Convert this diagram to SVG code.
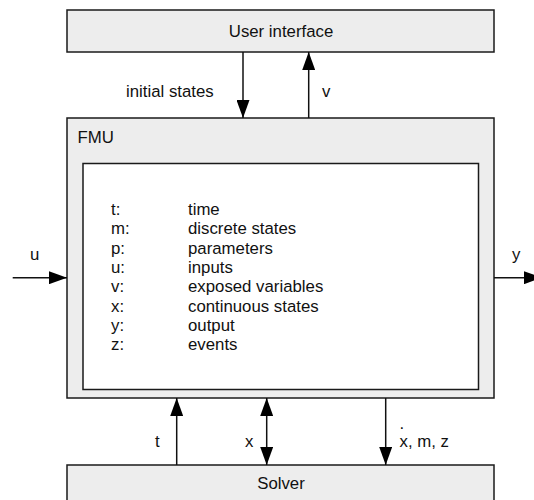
<svg xmlns="http://www.w3.org/2000/svg" width="534" height="500" viewBox="0 0 534 500">
  <style>
    .box { fill: #ededed; stroke: #1a1a1a; stroke-width: 1.5; }
    .inner { fill: #ffffff; stroke: #1a1a1a; stroke-width: 1.5; }
    .lbl { font-family: "Liberation Sans", Arial, sans-serif; font-size: 16.8px; fill: #111; }
    .mid { text-anchor: middle; }
    .conn { stroke: #111; stroke-width: 1.5; fill: none; }
  </style>
  <defs>
    <marker id="ah" markerUnits="userSpaceOnUse" markerWidth="18" markerHeight="13" refX="18" refY="6.5" orient="auto-start-reverse">
      <path d="M0,0 L18,6.5 L0,13 Z" fill="#000"/>
    </marker>
  </defs>
  <rect width="534" height="500" fill="#ffffff"/>

  <g id="user-interface">
    <rect class="box" x="67" y="10" width="427" height="42"/>
    <text class="lbl mid" x="281" y="36.7">User interface</text>
  </g>

  <g id="fmu">
    <rect class="box" x="67" y="118" width="427" height="280"/>
    <text class="lbl" x="77.5" y="143.3">FMU</text>
    <rect class="inner" x="83" y="163.5" width="395.5" height="226"/>
    <g class="lbl">
      <text x="111" y="215">t:</text>
      <text x="111" y="234.3">m:</text>
      <text x="111" y="253.6">p:</text>
      <text x="111" y="272.9">u:</text>
      <text x="111" y="292.2">v:</text>
      <text x="111" y="311.5">x:</text>
      <text x="111" y="330.8">y:</text>
      <text x="111" y="350.1">z:</text>
      <text x="188" y="215">time</text>
      <text x="188" y="234.3">discrete states</text>
      <text x="188" y="253.6">parameters</text>
      <text x="188" y="272.9">inputs</text>
      <text x="188" y="292.2">exposed variables</text>
      <text x="188" y="311.5">continuous states</text>
      <text x="188" y="330.8">output</text>
      <text x="188" y="350.1">events</text>
    </g>
  </g>

  <g id="solver">
    <rect class="box" x="67" y="465" width="427" height="45"/>
    <text class="lbl mid" x="281" y="489.3">Solver</text>
  </g>

  <g id="connectors">
    <line class="conn" x1="243" y1="52" x2="243" y2="118" marker-end="url(#ah)"/>
    <text class="lbl" x="126" y="96.7">initial states</text>
    <line class="conn" x1="308.7" y1="118" x2="308.7" y2="52" marker-end="url(#ah)"/>
    <text class="lbl" x="322" y="96.7">v</text>
    <line class="conn" x1="12.7" y1="277.7" x2="67" y2="277.7" marker-end="url(#ah)"/>
    <text class="lbl" x="30" y="260">u</text>
    <line class="conn" x1="494" y1="277.7" x2="542" y2="277.7" marker-end="url(#ah)"/>
    <text class="lbl" x="512" y="260">y</text>
    <line class="conn" x1="176.7" y1="465" x2="176.7" y2="398" marker-end="url(#ah)"/>
    <text class="lbl" x="155" y="447.3">t</text>
    <line class="conn" x1="266.7" y1="398" x2="266.7" y2="465" marker-start="url(#ah)" marker-end="url(#ah)"/>
    <text class="lbl" x="245" y="446.7">x</text>
    <line class="conn" x1="385.7" y1="398" x2="385.7" y2="465" marker-end="url(#ah)"/>
    <text class="lbl" x="399.5" y="428.5">.</text>
    <text class="lbl" x="399.5" y="446.7">x, m, z</text>
  </g>
</svg>
